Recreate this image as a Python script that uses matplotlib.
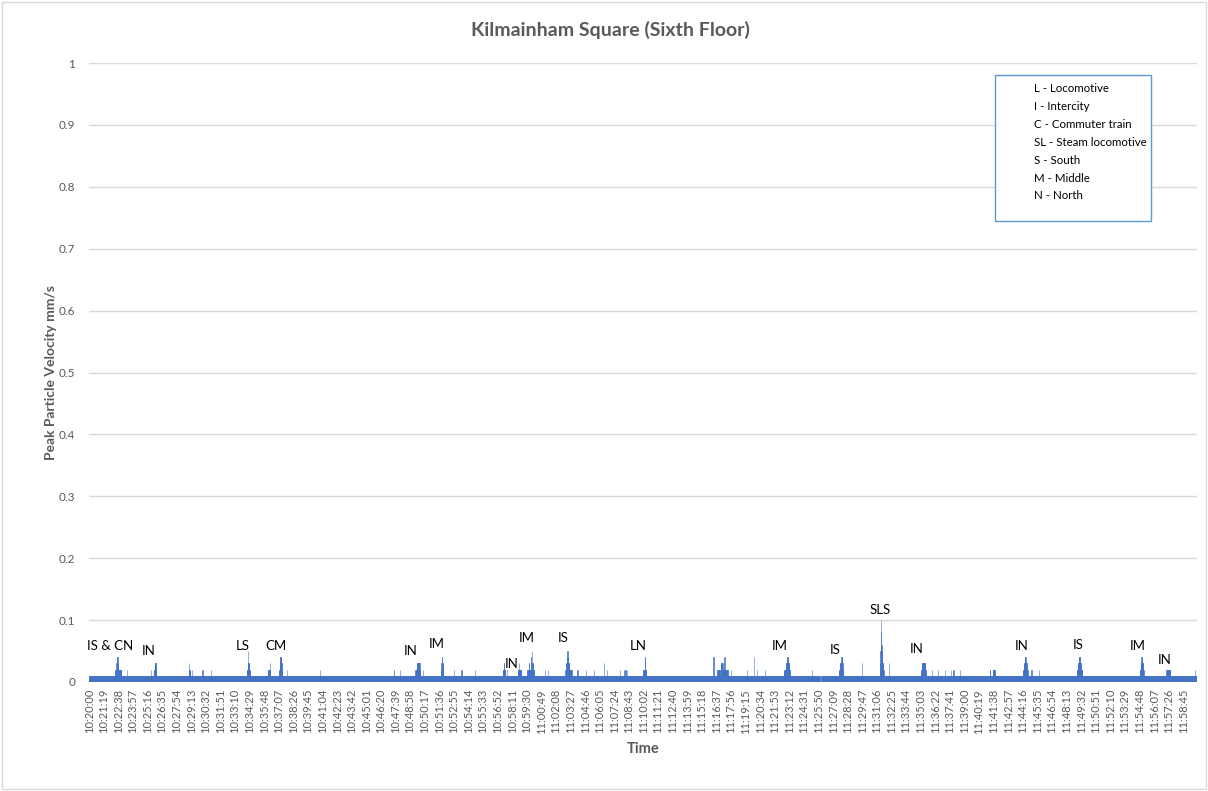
import matplotlib
matplotlib.use("Agg")
import matplotlib.pyplot as plt
from matplotlib.patches import Rectangle
import numpy as np

plt.rcParams['font.family'] = ['Lato', 'DejaVu Sans']

# ---------------- data ----------------
title = "Kilmainham Square (Sixth Floor)"
x_label = "Time"
y_label = "Peak Particle Velocity mm/s"
start_time = (10, 20, 0)          # first reading, one reading per second
n_readings = 6000                  # 10:20:00 .. 11:59:59
tick_every = 79                    # Excel shows every 79th category label
baseline_value = 0.01              # background reading

# seconds where the reading was 0
zero_start = [68, 80, 1352, 1387, 1667, 1716, 2107, 2187, 2437, 3957, 5522, 5595, 5608, 5649]
zero_end   = [68, 80, 1352, 1387, 1667, 1716, 2107, 2187, 2437, 3965, 5522, 5595, 5608, 5649]

# raised readings: (start second, end second, value), applied in order
seg_start = [142, 148, 151, 206, 334, 350, 355, 540, 543, 556, 614, 658,
             855, 859, 862, 968, 978, 1030, 1033, 1035, 1070, 1251,
             1649, 1684, 1768, 1775, 1807, 1905, 1908, 1911, 1975, 2017, 2088,
             2240, 2246, 2262, 2322, 2327, 2373, 2382, 2391, 2398, 2400,
             2469, 2487, 2580, 2584, 2588, 2591, 2645, 2690, 2736, 2790, 2803,
             2877, 2895, 2905, 2911, 3000, 3009,
             3381, 3402, 3418, 3422, 3441, 3477, 3562, 3599, 3617, 3658,
             3764, 3772, 3781, 3915, 4062, 4067, 4074, 4187,
             4282, 4284, 4286, 4287, 4288, 4289, 4332, 4505, 4510,
             4563, 4599, 4636, 4667, 4681, 4717, 4877, 4895,
             5058, 5063, 5068, 5103, 5142, 5350, 5356, 5359,
             5692, 5695, 5699, 5834, 5989]
seg_end   = [174, 158, 154, 206, 334, 364, 361, 546, 543, 556, 614, 658,
             870, 865, 862, 980, 978, 1046, 1043, 1041, 1070, 1251,
             1650, 1684, 1792, 1789, 1807, 1918, 1916, 1913, 1975, 2017, 2088,
             2254, 2248, 2262, 2341, 2327, 2410, 2384, 2393, 2402, 2400,
             2469, 2487, 2612, 2600, 2595, 2591, 2645, 2690, 2736, 2790, 2803,
             2877, 2896, 2906, 2911, 3016, 3011,
             3381, 3412, 3458, 3430, 3441, 3477, 3562, 3599, 3617, 3658,
             3794, 3790, 3784, 3915, 4084, 4080, 4077, 4187,
             4302, 4298, 4294, 4291, 4290, 4289, 4332, 4530, 4527,
             4563, 4599, 4636, 4667, 4681, 4717, 4880, 4904,
             5082, 5077, 5071, 5103, 5142, 5378, 5370, 5365,
             5710, 5707, 5701, 5854, 5989]
seg_value = [0.02, 0.03, 0.04, 0.02, 0.02, 0.02, 0.03, 0.02, 0.03, 0.02, 0.02, 0.02,
             0.02, 0.03, 0.05, 0.02, 0.03, 0.02, 0.03, 0.04, 0.02, 0.02,
             0.02, 0.02, 0.02, 0.03, 0.02, 0.02, 0.03, 0.04, 0.02, 0.02, 0.02,
             0.02, 0.03, 0.02, 0.02, 0.03, 0.02, 0.03, 0.04, 0.03, 0.05,
             0.02, 0.02, 0.02, 0.03, 0.04, 0.05, 0.02, 0.02, 0.02, 0.03, 0.02,
             0.02, 0.02, 0.02, 0.02, 0.02, 0.04,
             0.04, 0.02, 0.02, 0.03, 0.04, 0.02, 0.02, 0.04, 0.02, 0.02,
             0.02, 0.03, 0.04, 0.02, 0.02, 0.03, 0.04, 0.03,
             0.02, 0.03, 0.05, 0.06, 0.08, 0.10, 0.03, 0.02, 0.03,
             0.02, 0.02, 0.02, 0.02, 0.02, 0.02, 0.02, 0.02,
             0.02, 0.03, 0.04, 0.02, 0.02, 0.02, 0.03, 0.04,
             0.02, 0.03, 0.04, 0.02, 0.02]

# event annotations (second index, height, text)
ann_sec = [113, 325, 830, 1014, 1742, 1883, 2290, 2371, 2567, 2974,
           3740, 4038, 4283, 4484, 5048, 5358, 5678, 5825]
ann_y = [0.058, 0.050, 0.058, 0.058, 0.050, 0.061, 0.029, 0.071, 0.071, 0.058,
         0.058, 0.052, 0.116, 0.053, 0.058, 0.060, 0.058, 0.036]
ann_text = ["IS & CN", "IN", "LS", "CM", "IN", "IM", "IN", "IM", "IS", "LN",
            "IM", "IS", "SLS", "IN", "IN", "IS", "IM", "IN"]

legend_lines = ["L - Locomotive", "I - Intercity", "C - Commuter train",
                "SL - Steam locomotive", "S - South", "M - Middle", "N - North"]

y_ticks = [0, 0.1, 0.2, 0.3, 0.4, 0.5, 0.6, 0.7, 0.8, 0.9, 1]
y_tick_labels = ["0", "0.1", "0.2", "0.3", "0.4", "0.5", "0.6", "0.7", "0.8", "0.9", "1"]

# ---------------- build series ----------------
values = np.full(n_readings, baseline_value)
for s, e in zip(zero_start, zero_end):
    values[s:e + 1] = 0.0
for s, e, v in zip(seg_start, seg_end, seg_value):
    values[s:e + 1] = v

h0, m0, s0 = start_time
t0 = h0 * 3600 + m0 * 60 + s0
tick_pos = list(range(0, n_readings, tick_every))
tick_labels = []
for k in tick_pos:
    t = t0 + k
    tick_labels.append(f"{t // 3600}:{(t % 3600) // 60:02d}:{t % 60:02d}")

# ---------------- draw ----------------
W, H = 1208, 791
fig = plt.figure(figsize=(W / 100, H / 100), dpi=100)
ax_left, ax_right, ax_top, ax_bottom = 89, 1197, 63, 682
ax = fig.add_axes([ax_left / W, 1 - ax_bottom / H, (ax_right - ax_left) / W, (ax_bottom - ax_top) / H])

bar_color = "#4472C4"
x = np.arange(n_readings)
ax.bar(x, values, width=1.0, color=bar_color, edgecolor=bar_color, linewidth=0.4, zorder=3)

ax.set_xlim(-0.5, n_readings - 0.5)
ax.set_ylim(0, 1)
ax.set_yticks(y_ticks)
ax.set_yticklabels(y_tick_labels)
ax.yaxis.grid(True, color="#d9d9d9", linewidth=1)
ax.set_axisbelow(True)
for sp in ax.spines.values():
    sp.set_visible(False)
ax.tick_params(axis='y', length=0, pad=10, labelsize=8.5, labelcolor="#595959")
ax.set_xticks(tick_pos)
ax.set_xticklabels(tick_labels, rotation=90)
ax.tick_params(axis='x', length=0, pad=5, labelsize=8, labelcolor="#595959")

ax.set_xlabel(x_label, fontsize=10.5, fontweight='bold', color="#595959", labelpad=6)
ax.set_ylabel(y_label, fontsize=10, fontweight='bold', color="#595959", labelpad=1)

for xs, ys, txt in zip(ann_sec, ann_y, ann_text):
    ax.text(xs, ys, txt, ha='center', va='center', fontsize=9.5, color="black", zorder=5)

fig.text(610 / W, 1 - 30 / H, title, ha='center', va='center', fontsize=14,
         fontweight='bold', color="#595959")

# legend-like text box
fig.patches.append(Rectangle((995 / W, 1 - 221 / H), (1151 - 995) / W, (221 - 75) / H,
                             transform=fig.transFigure, fill=True, facecolor="white",
                             edgecolor="#5B9BD5", linewidth=1.0, zorder=10))
for i, line in enumerate(legend_lines):
    fig.text(1034 / W, 1 - (89 + i * 17.8) / H, line, ha='left', va='center',
             fontsize=8.3, color="black", zorder=11)

# chart border
fig.patches.append(Rectangle((2 / W, 2 / H), (W - 4) / W, (H - 4) / H, transform=fig.transFigure,
                             fill=False, edgecolor="#d9d9d9", linewidth=1.0))

fig.savefig("out.png", dpi=100)
